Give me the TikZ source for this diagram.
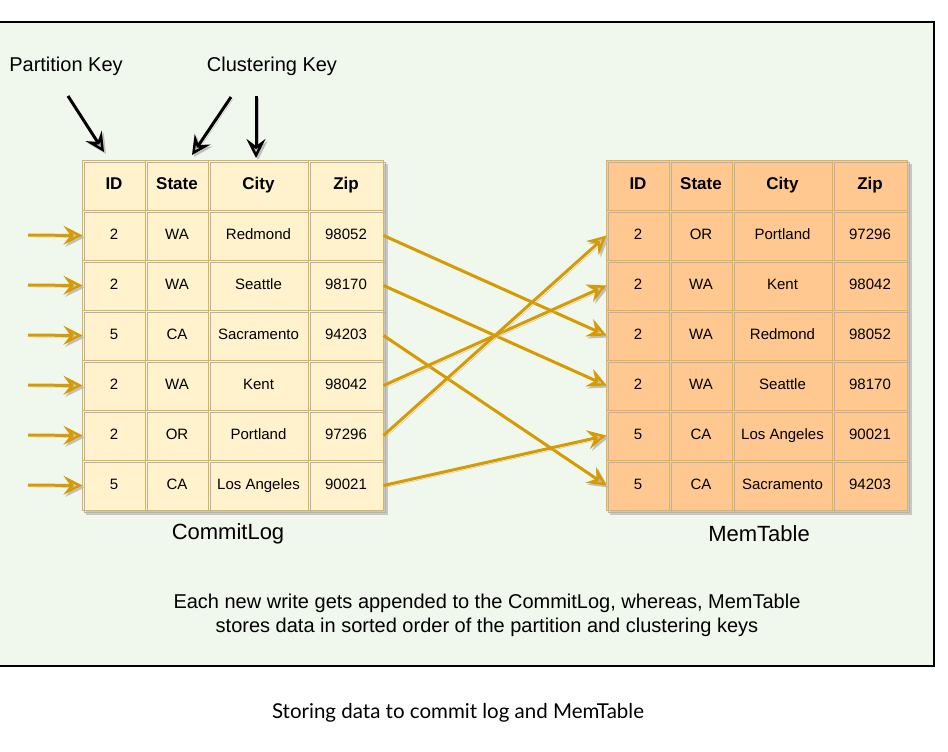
\documentclass[tikz,border=0pt]{standalone}
\usepackage{fontspec}
\setmainfont{Liberation Sans}
\newfontfamily\captionfont{Lato}
\usetikzlibrary{matrix}
\usetikzlibrary{positioning}
\usetikzlibrary{arrows.meta}
\usetikzlibrary{backgrounds}

\definecolor{panelgreen}{HTML}{F0F7EC}
\definecolor{logyellow}{HTML}{FFF2CC}
\definecolor{memorange}{HTML}{FFC890}
\definecolor{cellline}{HTML}{D6B656}
\definecolor{arrowgold}{HTML}{D79B00}

\begin{document}
\begin{tikzpicture}[x=1pt, y=-1pt,
  cell/.style={draw=cellline, line width=1pt, minimum height=50pt, inner sep=0pt, outer sep=0pt,
    anchor=center, text height=11pt, text depth=3pt, font=\fontsize{15}{18}\selectfont,
    postaction={draw=black!30, line width=.5pt, transform canvas={xshift=2pt, yshift=-2pt}}},
  datatable/.style={matrix of nodes, inner sep=0pt, outer sep=0pt, column sep=-1pt, row sep=-1pt,
    nodes={cell, fill=#1},
    column 1/.style={nodes={minimum width=63pt}},
    column 2/.style={nodes={minimum width=63pt}},
    column 3/.style={nodes={minimum width=100pt}},
    column 4/.style={nodes={minimum width=75pt}},
    row 1/.style={nodes={font=\fontsize{17}{20}\selectfont\bfseries}}},
  tableshadow/.style={fill=black!22},
  logarrow/.style={draw=arrowgold, line width=3pt,
    arrows={-Stealth[open, length=19pt, width=19pt, inset=7pt, line width=2.5pt]},
    preaction={draw=black!25, transform canvas={xshift=2pt, yshift=-2pt}}},
  keyarrow/.style={logarrow, draw=black},
  keylabel/.style={font=\fontsize{20}{24}\selectfont},
  tablename/.style={font=\fontsize{22}{26}\selectfont},
  note/.style={font=\fontsize{20}{24}\selectfont, align=center},
  captiontext/.style={font=\captionfont\fontsize{20.5}{24}\selectfont}]
\useasboundingbox (0,0) rectangle (948,752);

\begin{scope}[on background layer]
\fill[panelgreen, draw=black, line width=1.5pt] (-2,22) rectangle (934,666);
\end{scope}

\matrix (clog) [datatable=logyellow, anchor=north west] at (82,160) {
  ID & State & City & Zip \\
  2 & WA & Redmond & 98052 \\
  2 & WA & Seattle & 98170 \\
  5 & CA & Sacramento & 94203 \\
  2 & WA & Kent & 98042 \\
  2 & OR & Portland & 97296 \\
  5 & CA & Los Angeles & 90021 \\
};
\matrix (mtab) [datatable=memorange, anchor=north west] at (606,160) {
  ID & State & City & Zip \\
  2 & OR & Portland & 97296 \\
  2 & WA & Kent & 98042 \\
  2 & WA & Redmond & 98052 \\
  2 & WA & Seattle & 98170 \\
  5 & CA & Los Angeles & 90021 \\
  5 & CA & Sacramento & 94203 \\
};

\begin{scope}[on background layer]
\fill[tableshadow] ([xshift=4pt, yshift=-4pt]clog.north west) rectangle ([xshift=4pt, yshift=-4pt]clog.south east);
\fill[tableshadow] ([xshift=4pt, yshift=-4pt]mtab.north west) rectangle ([xshift=4pt, yshift=-4pt]mtab.south east);
\end{scope}

\node [keylabel] (pkey) at (66,66) {Partition Key};
\node [keylabel] (ckey) at (272,66) {Clustering Key};
\node [tablename] (clogname) at (228,534) {CommitLog};
\node [tablename] (mtabname) at (759,534) {MemTable};
\node [note] (summary) at (487,615) {Each new write gets appended to the CommitLog, whereas, MemTable\\stores data in sorted order of the partition and clustering keys};
\node [captiontext] (caption) at (458,713) {Storing data to commit log and MemTable};

\coordinate (pk0) at (68,96);
\coordinate (pk1) at (104,152);
\coordinate (ck0) at (231,97);
\coordinate (ck1) at (192,155);
\coordinate (ck2) at (256,96);
\coordinate (ck3) at (256,158);
\draw[keyarrow] (pk0) -- (pk1);
\draw[keyarrow] (ck0) -- (ck1);
\draw[keyarrow] (ck2) -- (ck3);

\coordinate (w2) at (28,235);
\coordinate (w3) at (28,285);
\coordinate (w4) at (28,335);
\coordinate (w5) at (28,385);
\coordinate (w6) at (28,435);
\coordinate (w7) at (28,485);
\draw[logarrow] (w2) -- (clog-2-1.west);
\draw[logarrow] (w3) -- (clog-3-1.west);
\draw[logarrow] (w4) -- (clog-4-1.west);
\draw[logarrow] (w5) -- (clog-5-1.west);
\draw[logarrow] (w6) -- (clog-6-1.west);
\draw[logarrow] (w7) -- (clog-7-1.west);

\draw[logarrow] (clog-2-4.east) -- (mtab-4-1.west);
\draw[logarrow] (clog-3-4.east) -- (mtab-5-1.west);
\draw[logarrow] (clog-4-4.east) -- (mtab-7-1.west);
\draw[logarrow] (clog-5-4.east) -- (mtab-3-1.west);
\draw[logarrow] (clog-6-4.east) -- (mtab-2-1.west);
\draw[logarrow] (clog-7-4.east) -- (mtab-6-1.west);
\end{tikzpicture}
\end{document}
